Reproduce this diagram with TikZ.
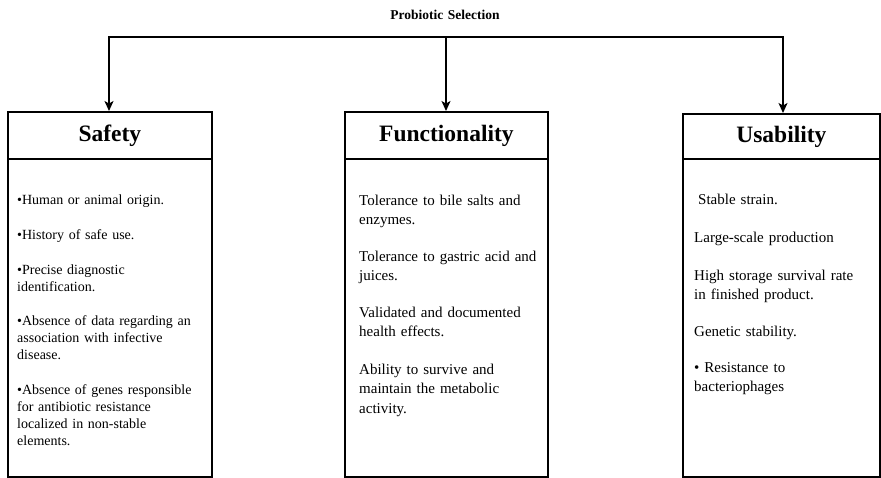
\documentclass[tikz,border=0pt]{standalone}
\usepackage{fontspec}
\setmainfont{Liberation Serif}[WordSpace=1.4]
\usetikzlibrary{arrows.meta}
\begin{document}
\begin{tikzpicture}[x=1pt,y=-1pt,
  frame/.style={draw=black, line width=1.8pt, anchor=north west, inner sep=0pt},
  headbox/.style={frame, font=\bfseries\fontsize{23.5}{27}\selectfont},
  item/.style={anchor=base west, inner sep=0pt, text width=195pt, align=left,
    font=\fontsize{14}{#1}\selectfont},
  bigitem/.style={item=#1, font=\fontsize{15}{#1}\selectfont},
  bar/.style={line width=2.2pt, line cap=rect},
  conn/.style={line width=1.4pt, -{Stealth[length=10pt,width=9pt,inset=2.5pt]}},
  titlefont/.style={font=\bfseries\fontsize{13.5}{16}\selectfont}
]
\useasboundingbox (0,0) rectangle (881,477);

% heading
\node[titlefont] (title) at (445,15) {Probiotic Selection};

% column frames: header and body
\node[headbox, minimum width=204pt, minimum height=47pt]  (sh) at (7,111)   {Safety};
\node[frame,   minimum width=204pt, minimum height=318pt] (sb) at (7,158)   {};
\node[headbox, minimum width=203pt, minimum height=47pt]  (fh) at (344,111) {Functionality};
\node[frame,   minimum width=203pt, minimum height=318pt] (fb) at (344,158) {};
\node[headbox, minimum width=197pt, minimum height=45pt]  (uh) at (682,113) {Usability};
\node[frame,   minimum width=197pt, minimum height=318pt] (ub) at (682,158) {};

% distribution bar and arrows
\coordinate (hl) at (109,37);
\coordinate (hm) at (446,37);
\coordinate (hr) at (783,37);
\draw[bar] (hl) -- (hr);
\draw[conn] (hl) -- (hl |- sh.north);
\draw[conn] (hm) -- (hm |- fh.north);
\draw[conn] (hr) -- (hr |- uh.north);

% safety criteria
\node[item=17.3pt] (s1) at (17,204) {•Human or animal origin.};
\node[item=17.3pt] (s2) at (17,239) {•History of safe use.};
\node[item=17.3pt] (s3) at (17,274) {•Precise diagnostic\\identification.};
\node[item=17.3pt] (s4) at (17,325) {•Absence of data regarding an\\association with infective\\disease.};
\node[item=17.3pt] (s5) at (17,394) {•Absence of genes responsible\\for antibiotic resistance\\localized in non-stable\\elements.};

% functionality criteria
\node[bigitem=19.6pt] (f1) at (359,205) {Tolerance to bile salts and\\enzymes.};
\node[bigitem=19.6pt] (f2) at (359,261) {Tolerance to gastric acid and\\juices.};
\node[bigitem=19.6pt] (f3) at (359,317) {Validated and documented\\health effects.};
\node[bigitem=19.6pt] (f4) at (359,374) {Ability to survive and\\maintain the metabolic\\activity.};

% usability criteria
\node[bigitem=19pt] (u1) at (698,204) {Stable strain.};
\node[bigitem=19pt] (u2) at (694,242) {Large-scale production};
\node[bigitem=19pt] (u3) at (694,280) {High storage survival rate\\in finished product.};
\node[bigitem=19pt] (u4) at (694,336) {Genetic stability.};
\node[bigitem=19pt] (u5) at (694,372) {• Resistance to\\bacteriophages};
\end{tikzpicture}
\end{document}
